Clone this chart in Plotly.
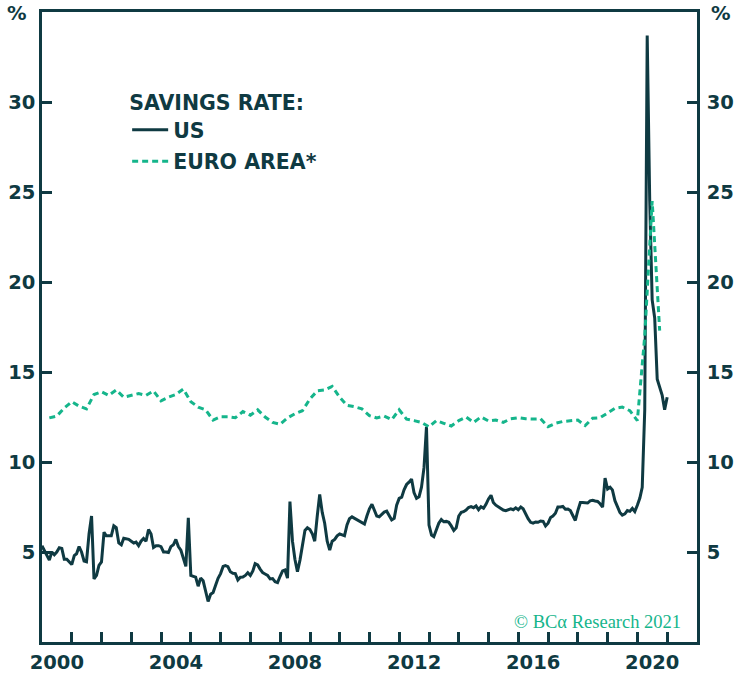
import pandas as pd
import plotly.graph_objects as go

# Personal saving rate, % of disposable income (monthly, period-end)
us_saving_rate = [
    5.35, 5.05, 4.8, 4.55, 5.0, 4.85, 5.0, 5.24, 5.2, 4.6, 4.6, 4.45,        # 2000
    4.3, 4.8, 4.9, 5.3, 5.0, 4.5, 4.46, 6.0, 7.0, 3.5, 3.7, 4.25,            # 2001
    4.45, 6.1, 5.9, 5.9, 5.9, 6.45, 6.35, 5.5, 5.4, 5.76, 5.72, 5.7,         # 2002
    5.6, 5.5, 5.55, 5.35, 5.6, 5.75, 5.6, 6.25, 6.0, 5.25, 5.35, 5.35,       # 2003
    5.3, 5.0, 5.0, 4.97, 5.3, 5.4, 5.7, 5.3, 5.1, 4.7, 4.2, 6.9,             # 2004
    3.7, 3.65, 3.6, 3.1, 3.55, 3.4, 2.75, 2.25, 2.65, 2.75, 3.15, 3.54,      # 2005
    3.8, 4.2, 4.24, 4.19, 3.9, 3.82, 3.8, 3.45, 3.6, 3.61, 3.7, 3.85,        # 2006
    3.7, 3.95, 4.35, 4.28, 4.05, 3.85, 3.78, 3.7, 3.5, 3.52, 3.35, 3.3,      # 2007
    3.65, 3.95, 4.0, 3.55, 7.8, 5.6, 4.6, 3.9, 4.55, 5.3, 6.2, 6.35,         # 2008
    6.25, 6.0, 5.6, 7.0, 8.2, 7.2, 6.6, 5.6, 5.1, 5.6, 5.7, 5.9,             # 2009
    6.0, 5.95, 5.9, 6.5, 6.85, 6.95, 6.87, 6.83, 6.75, 6.65, 6.55, 7.0,      # 2010
    7.4, 7.65, 7.35, 7.0, 6.96, 7.1, 7.22, 7.27, 7.0, 6.78, 6.87, 7.6,       # 2011
    7.98, 8.05, 8.45, 8.75, 8.88, 9.05, 8.3, 7.98, 8.07, 8.6, 9.7, 11.96,    # 2012
    6.5, 5.94, 5.85, 6.2, 6.6, 6.8, 6.68, 6.7, 6.65, 6.45, 6.2, 6.35,        # 2013
    7.0, 7.2, 7.24, 7.33, 7.47, 7.52, 7.46, 7.56, 7.35, 7.52, 7.43, 7.65,    # 2014
    7.95, 8.15, 7.75, 7.6, 7.5, 7.4, 7.33, 7.3, 7.35, 7.4, 7.35, 7.45,       # 2015
    7.35, 7.5, 7.4, 7.1, 6.85, 6.65, 6.6, 6.67, 6.65, 6.72, 6.7, 6.45,       # 2016
    6.6, 6.92, 7.0, 7.15, 7.5, 7.5, 7.53, 7.38, 7.39, 7.3, 7.05, 6.75,       # 2017
    7.3, 7.75, 7.75, 7.72, 7.72, 7.84, 7.87, 7.83, 7.81, 7.68, 7.5, 9.1,     # 2018
    8.5, 8.6, 8.45, 7.85, 7.5, 7.2, 7.05, 7.12, 7.3, 7.26, 7.42, 7.25,       # 2019
    7.6, 8.0, 8.6, 12.9, 33.7, 24.5, 19.0, 18.0, 14.6, 14.2, 13.7, 12.9,     # 2020
    13.6,
]

# Household saving rate, euro area (quarterly, quarter-end)
euro_saving_rate = [
    12.45, 12.55, 13.0, 13.35,   # 2000
    13.1, 12.95, 13.75, 13.9,    # 2001
    13.7, 14.0, 13.6, 13.7,      # 2002
    13.8, 13.7, 13.95, 13.4,     # 2003
    13.6, 13.75, 14.05, 13.35,   # 2004
    13.05, 12.9, 12.33, 12.52,   # 2005
    12.52, 12.46, 12.8, 12.6,    # 2006
    12.9, 12.5, 12.2, 12.1,      # 2007
    12.45, 12.68, 12.85, 13.5,   # 2008
    13.95, 14.0, 14.2, 13.6,     # 2009
    13.15, 13.07, 12.95, 12.58,  # 2010
    12.45, 12.55, 12.35, 12.9,   # 2011
    12.38, 12.3, 12.2, 11.95,    # 2012
    12.3, 12.15, 12.0, 12.3,     # 2013
    12.5, 12.2, 12.5, 12.28,     # 2014
    12.33, 12.2, 12.4, 12.46,    # 2015
    12.4, 12.39, 12.4, 11.96,    # 2016
    12.15, 12.25, 12.3, 12.33,   # 2017
    12.02, 12.43, 12.46, 12.7,   # 2018
    12.98, 13.05, 12.85, 12.3,   # 2019
    17.0, 24.5, 17.3,            # 2020
]

y_ticks = [5, 10, 15, 20, 25, 30]
year_labels = [2000, 2004, 2008, 2012, 2016, 2020]

us_dates = pd.date_range("1999-12-31", periods=len(us_saving_rate), freq="ME")
euro_dates = pd.date_range("2000-03-31", periods=len(euro_saving_rate), freq="QE")

DARK = "#0f3a42"
GREEN = "#15b58b"
FONT = "DejaVu Sans"
FS = 20.5        # legend text
TICK_FS = 19.5   # axis numbers

fig = go.Figure()
fig.add_trace(go.Scatter(
    x=us_dates, y=us_saving_rate, name="US", mode="lines",
    legendgroup="us",
    line=dict(color=DARK, width=3),
))
# Euro area series sits on the overlaid axis pair (same ranges), which carries
# the year labels and the right-hand scale.
fig.add_trace(go.Scatter(
    x=euro_dates, y=euro_saving_rate, name="EURO AREA*", mode="lines",
    legendgroup="ea", xaxis="x2", yaxis="y2",
    line=dict(color=GREEN, width=3, dash="6px,4px"),
))

x_range = ["2000-01-01", "2022-01-01"]
axis_font = dict(family=FONT, size=TICK_FS, color=DARK, weight=700)

fig.update_layout(
    width=738, height=679,
    margin=dict(l=42, r=41, t=12, b=37, autoexpand=False),
    paper_bgcolor="white", plot_bgcolor="white",
    showlegend=True,
    legend=dict(
        title=dict(text="SAVINGS RATE:", font=dict(family=FONT, size=FS, color=DARK, weight=700)),
        font=dict(family=FONT, size=FS, color=DARK, weight=700),
        x=0.13, y=0.887, xanchor="left", yanchor="top",
        traceorder="grouped", tracegroupgap=2,
        bgcolor="rgba(0,0,0,0)", itemwidth=36,
    ),
    xaxis=dict(
        type="date", range=x_range, automargin=False,
        tickmode="array",
        tickvals=[f"{y}-01-01" for y in range(2000, 2023)],
        showticklabels=False,
        ticks="inside", ticklen=10, tickwidth=2.5, tickcolor=DARK,
        showline=True, linewidth=2.5, linecolor=DARK, mirror=True,
        showgrid=False, zeroline=False,
    ),
    xaxis2=dict(
        type="date", range=x_range, overlaying="x", anchor="y", side="bottom",
        automargin=False,
        tickmode="array",
        tickvals=[f"{y}-07-01" for y in year_labels],
        ticktext=[str(y) for y in year_labels],
        ticks="", showline=False, showgrid=False, zeroline=False,
        tickfont=axis_font, ticklabelstandoff=6,
    ),
    yaxis=dict(
        range=[0, 35], tickmode="array", tickvals=y_ticks, automargin=False,
        ticks="inside", ticklen=10, tickwidth=2.5, tickcolor=DARK,
        showline=True, linewidth=2.5, linecolor=DARK,
        showgrid=False, zeroline=False,
        tickfont=axis_font, ticklabelstandoff=0,
    ),
    yaxis2=dict(
        range=[0, 35], overlaying="y", side="right", anchor="x", automargin=False,
        tickmode="array", tickvals=y_ticks,
        ticks="inside", ticklen=10, tickwidth=2.5, tickcolor=DARK,
        showline=True, linewidth=2.5, linecolor=DARK,
        showgrid=False, zeroline=False,
        tickfont=axis_font, ticklabelstandoff=3,
    ),
)

fig.add_annotation(text="%", xref="paper", yref="paper", x=-0.038, y=0.997,
                   xanchor="center", yanchor="middle", showarrow=False,
                   font=dict(family=FONT, size=TICK_FS, color=DARK, weight=700))
fig.add_annotation(text="%", xref="paper", yref="paper", x=1.037, y=0.997,
                   xanchor="center", yanchor="middle", showarrow=False,
                   font=dict(family=FONT, size=TICK_FS, color=DARK, weight=700))
fig.add_annotation(text="© BCα Research 2021", xref="paper", yref="paper",
                   x=0.978, y=0.032, xanchor="right", yanchor="middle", showarrow=False,
                   font=dict(family="Liberation Serif", size=18.5, color=GREEN))

fig.write_html("out.html")
